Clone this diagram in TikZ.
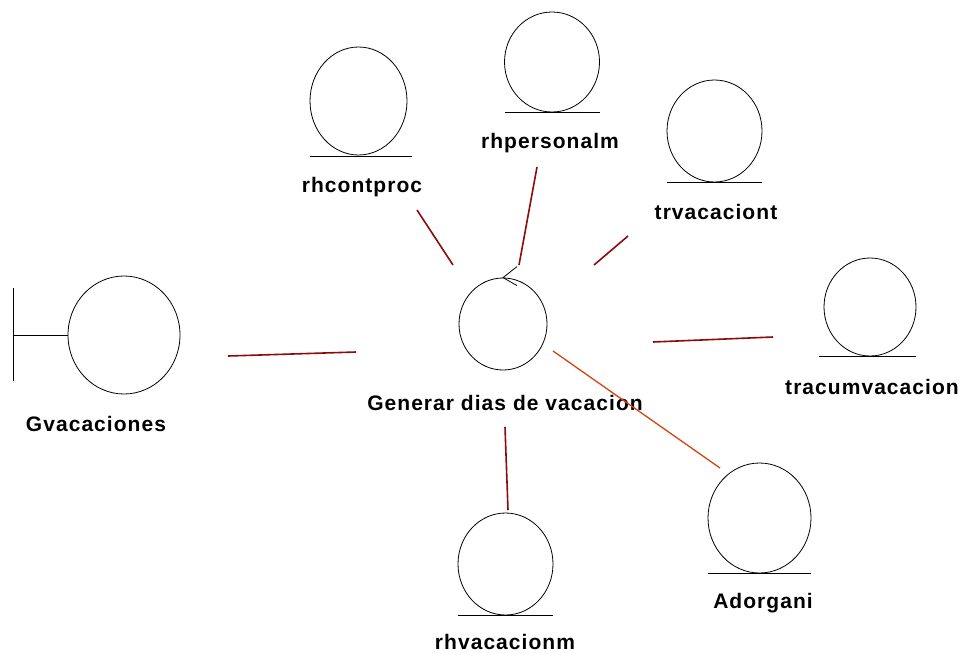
\documentclass[tikz,border=0pt]{standalone}
\usepackage{fontspec}
\setmainfont{Liberation Sans}
\newfontfamily\lblfont[LetterSpace=5]{Liberation Sans}
\usetikzlibrary{shapes.geometric,calc}

\definecolor{linkred}{RGB}{140,10,10}
\definecolor{linkorange}{RGB}{214,66,16}

\tikzset{
    entity/.style={draw, ellipse, inner sep=0pt, line width=0.8pt},
    lbl/.style={font=\lblfont\fontsize{21}{25}\selectfont\bfseries},
    link/.style={draw=linkred, line width=1.6pt},
}

\begin{document}
\begin{tikzpicture}[x=1pt, y=-1pt]
        \useasboundingbox (0,0) rectangle (965,653);

        % boundary
        \node[entity, minimum width=112, minimum height=118] (gvac) at (124, 335) {};
        \draw[line width=0.8pt] (13, 288) -- (13, 381);
        \draw[line width=0.8pt] (gvac.west) -- (13, 335);
        \node[lbl] (gvaclbl) at (96, 424) {Gvacaciones};

        % control
        \node[entity, minimum width=88, minimum height=92] (ctrl) at (503, 324) {};
        \draw[line width=0.8pt] ($(ctrl.north)+(14,-11)$) -- (ctrl.north) -- ($(ctrl.north)+(14,8)$);
        \node[lbl] (ctrllbl) at (505, 403) {Generar dias de vacacion};

        % entities
        \node[entity, minimum width=97, minimum height=108] (contproc) at (358.5, 101) {};
        \draw[line width=0.8pt] (310, 156) -- (412, 156);
        \node[lbl] (contproclbl) at (362, 187) {rhcontproc};

        \node[entity, minimum width=95, minimum height=100] (personal) at (552, 62) {};
        \draw[line width=0.8pt] (505, 112) -- (600, 112);
        \node[lbl] (personallbl) at (550, 143) {rhpersonalm};

        \node[entity, minimum width=95, minimum height=102] (trvac) at (714.5, 131) {};
        \draw[line width=0.8pt] (667, 182) -- (762, 182);
        \node[lbl] (trvaclbl) at (716, 212) {trvacaciont};

        \node[entity, minimum width=92, minimum height=98] (tracum) at (870, 307) {};
        \draw[line width=0.8pt] (819, 356) -- (916, 356);
        \node[lbl] (tracumlbl) at (872, 387) {tracumvacacion};

        \node[entity, minimum width=103, minimum height=110] (adorg) at (759.5, 518) {};
        \draw[line width=0.8pt] (708, 573) -- (811, 573);
        \node[lbl] (adorglbl) at (763, 603) {Adorgani};

        \node[entity, minimum width=95, minimum height=102] (rhvac) at (505.5, 564) {};
        \draw[line width=0.8pt] (458, 615) -- (553, 615);
        \node[lbl] (rhvaclbl) at (505, 642) {rhvacacionm};

        % link ends
        \coordinate (g1) at (228, 356);  \coordinate (g2) at (356, 352);
        \coordinate (c1) at (417, 210);  \coordinate (c2) at (453, 265);
        \coordinate (p1) at (537, 167);  \coordinate (p2) at (519, 265);
        \coordinate (t1) at (628, 236);  \coordinate (t2) at (594, 265);
        \coordinate (u1) at (773, 337);  \coordinate (u2) at (653, 342);
        \coordinate (a1) at (553, 351);  \coordinate (a2) at (720, 468);
        \coordinate (v1) at (505, 427);  \coordinate (v2) at (508, 510);

        \draw[link] (g1) -- (g2);
        \draw[link] (c1) -- (c2);
        \draw[link] (p1) -- (p2);
        \draw[link] (t1) -- (t2);
        \draw[link] (u1) -- (u2);
        \draw[link, draw=linkorange, line width=1.3pt] (a1) -- (a2);
        \draw[link] (v1) -- (v2);
\end{tikzpicture}
\end{document}
